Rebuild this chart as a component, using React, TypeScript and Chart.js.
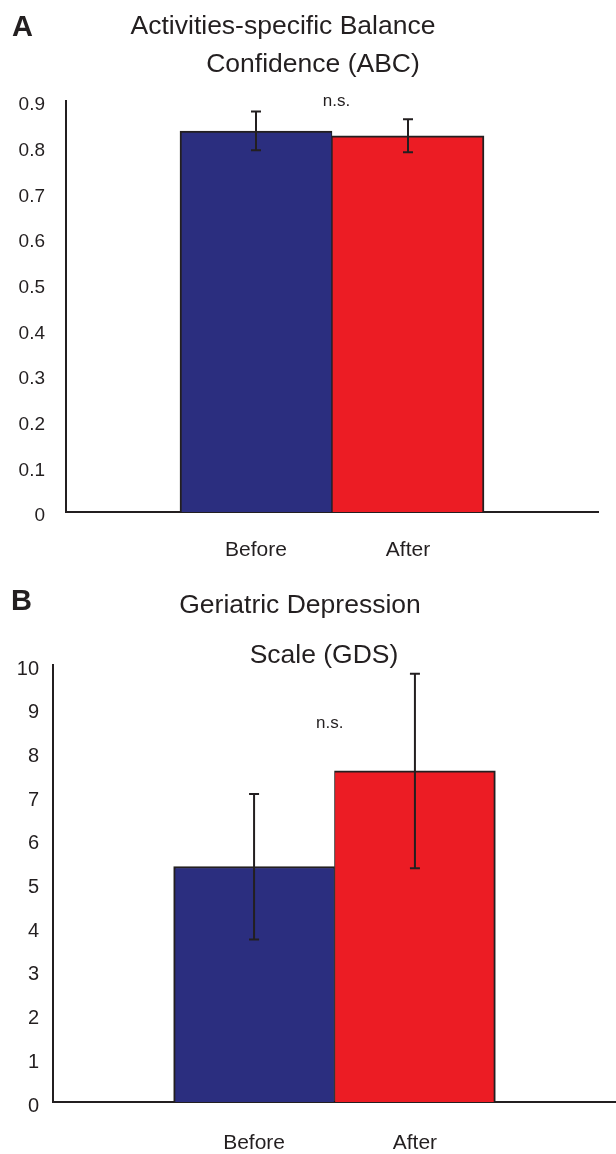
import React, { useEffect, useRef } from "react";
import { Chart, registerables } from "chart.js";

Chart.register(...registerables);

// ---------- data ----------
const categories = ["Before", "After"];

const abcMeans = [0.834, 0.824];
const abcErrLow = [0.792, 0.788];
const abcErrHigh = [0.877, 0.86];
const abcTickValues = [0, 0.1, 0.2, 0.3, 0.4, 0.5, 0.6, 0.7, 0.8, 0.9];
const abcTickLabels = ["0", "0.1", "0.2", "0.3", "0.4", "0.5", "0.6", "0.7", "0.8", "0.9"];

const gdsMeans = [5.39, 7.58];
const gdsErrLow = [3.72, 5.35];
const gdsErrHigh = [7.05, 9.8];
const gdsTickValues = [0, 1, 2, 3, 4, 5, 6, 7, 8, 9, 10];
const gdsTickLabels = ["0", "1", "2", "3", "4", "5", "6", "7", "8", "9", "10"];

const barColors = ["#2b2e7f", "#ec1c24"];
const INK = "#231f20";
const FONT = "'Liberation Sans', Arial, Helvetica, sans-serif";

// ---------- plugins ----------
const errorBarsPlugin = {
  id: "errorBars",
  afterDatasetsDraw(chart: any, _args: any, opts: any) {
    const meta = chart.getDatasetMeta(0);
    const y = chart.scales.y;
    const ctx = chart.ctx;
    ctx.save();
    ctx.strokeStyle = INK;
    ctx.lineWidth = 2;
    meta.data.forEach((el: any, i: number) => {
      const x = el.x;
      const yl = y.getPixelForValue(opts.low[i]);
      const yh = y.getPixelForValue(opts.high[i]);
      const cap = opts.cap;
      ctx.beginPath();
      ctx.moveTo(x, yl);
      ctx.lineTo(x, yh);
      ctx.moveTo(x - cap, yl);
      ctx.lineTo(x + cap, yl);
      ctx.moveTo(x - cap, yh);
      ctx.lineTo(x + cap, yh);
      ctx.stroke();
    });
    ctx.restore();
  },
};

const textPlugin = {
  id: "panelText",
  afterDraw(chart: any, _args: any, opts: any) {
    const ctx = chart.ctx;
    ctx.save();
    ctx.fillStyle = INK;
    (opts.items || []).forEach((t: any) => {
      ctx.font = t.font;
      ctx.textAlign = t.align || "center";
      ctx.textBaseline = "middle";
      (ctx as any).letterSpacing = t.spacing || "0px";
      let px = t.x;
      let py = t.y;
      if (t.data) {
        px = chart.scales.x.getPixelForValue(t.x);
        py = chart.scales.y.getPixelForValue(t.y);
      }
      ctx.fillText(t.text, px, py);
    });
    ctx.restore();
  },
};

// ---------- panels ----------
const panelA = {
  height: 580,
  padTop: 101,
  padRight: 18,
  yWidth: 66,
  xHeight: 68,
  xPad: 26,
  yMax: 0.9,
  yPad: 21,
  yFont: 19,
  yTickValues: abcTickValues,
  yTickLabels: abcTickLabels,
  means: abcMeans,
  low: abcErrLow,
  high: abcErrHigh,
  labelOffset: 4,
  texts: [
    { text: "A", x: 12, y: 28, font: `bold 29px ${FONT}`, align: "left" },
    { text: "Activities-specific Balance", x: 283, y: 27, font: `26.5px ${FONT}` },
    { text: "Confidence (ABC)", x: 313, y: 65, font: `26.5px ${FONT}` },
    { text: "n.s.", x: 1.53, y: 0.9, font: `17px ${FONT}`, data: true },
  ],
};

const panelB = {
  height: 574,
  padTop: 85,
  padRight: 0,
  yWidth: 53,
  xHeight: 52,
  xPad: 29,
  yMax: 10,
  yPad: 14,
  yFont: 20,
  yTickValues: gdsTickValues,
  yTickLabels: gdsTickLabels,
  means: gdsMeans,
  low: gdsErrLow,
  high: gdsErrHigh,
  labelOffset: 4,
  texts: [
    { text: "B", x: 11, y: 22, font: `bold 29px ${FONT}`, align: "left" },
    { text: "Geriatric Depression", x: 300, y: 26, font: `26.5px ${FONT}` },
    { text: "Scale (GDS)", x: 324, y: 76, font: `26.5px ${FONT}` },
    { text: "n.s.", x: 1.47, y: 8.67, font: `17px ${FONT}`, data: true },
  ],
};

function Panel({ cfg }: { cfg: any }) {
  const ref = useRef<HTMLCanvasElement | null>(null);
  useEffect(() => {
    if (!ref.current) return;
    const chart = new Chart(ref.current, {
      type: "bar",
      data: {
        datasets: [
          {
            data: categories.map((_, i) => ({ x: i + 1, y: cfg.means[i] })),
            backgroundColor: barColors,
            borderColor: INK,
            borderWidth: [
              { top: 2, left: 2, right: 1, bottom: 0 },
              { top: 2, left: 1, right: 2, bottom: 0 },
            ] as any,
            borderSkipped: "start",
            categoryPercentage: 1,
            barPercentage: 1,
          } as any,
        ],
      },
      options: {
        animation: false,
        responsive: false,
        maintainAspectRatio: false,
        layout: { padding: { left: 0, right: cfg.padRight, top: cfg.padTop, bottom: 0 } },
        plugins: {
          legend: { display: false },
          tooltip: { enabled: false },
          title: { display: false },
          errorBars: { low: cfg.low, high: cfg.high, cap: 5 },
          panelText: { items: cfg.texts },
        } as any,
        scales: {
          x: {
            type: "linear",
            min: -0.25,
            max: 3.25,
            offset: false,
            bounds: "data",
            grid: { display: false, drawTicks: false, offset: false },
            border: { display: true, color: INK, width: 2 },
            afterBuildTicks: (s: any) => {
              s.ticks = categories.map((_, i) => ({ value: i + 1 }));
            },
            afterFit: (s: any) => {
              s.height = cfg.xHeight;
            },
            ticks: {
              autoSkip: false,
              maxRotation: 0,
              padding: cfg.xPad,
              color: INK,
              font: { family: FONT, size: 21 },
              callback: (v: any) => categories[Math.round(v) - 1] ?? "",
            },
          },
          y: {
            type: "linear",
            min: 0,
            max: cfg.yMax,
            grid: { display: false, drawTicks: false },
            border: { display: true, color: INK, width: 2 },
            afterBuildTicks: (s: any) => {
              s.ticks = cfg.yTickValues.map((v: number) => ({ value: v }));
            },
            afterFit: (s: any) => {
              s.width = cfg.yWidth;
            },
            ticks: {
              padding: cfg.yPad,
              labelOffset: cfg.labelOffset,
              color: INK,
              font: { family: FONT, size: cfg.yFont },
              callback: (_v: any, i: number) => cfg.yTickLabels[i],
            },
          },
        } as any,
      },
      plugins: [errorBarsPlugin, textPlugin],
    } as any);
    return () => chart.destroy();
  }, [cfg]);
  return (
    <canvas
      ref={ref}
      width={616}
      height={cfg.height}
      style={{ display: "block", width: 616, height: cfg.height }}
    />
  );
}

export default function App() {
  useEffect(() => {
    document.body.style.margin = "0";
  }, []);
  return (
    <div style={{ width: 616, height: 1154, background: "#fff" }}>
      <Panel cfg={panelA} />
      <Panel cfg={panelB} />
    </div>
  );
}
